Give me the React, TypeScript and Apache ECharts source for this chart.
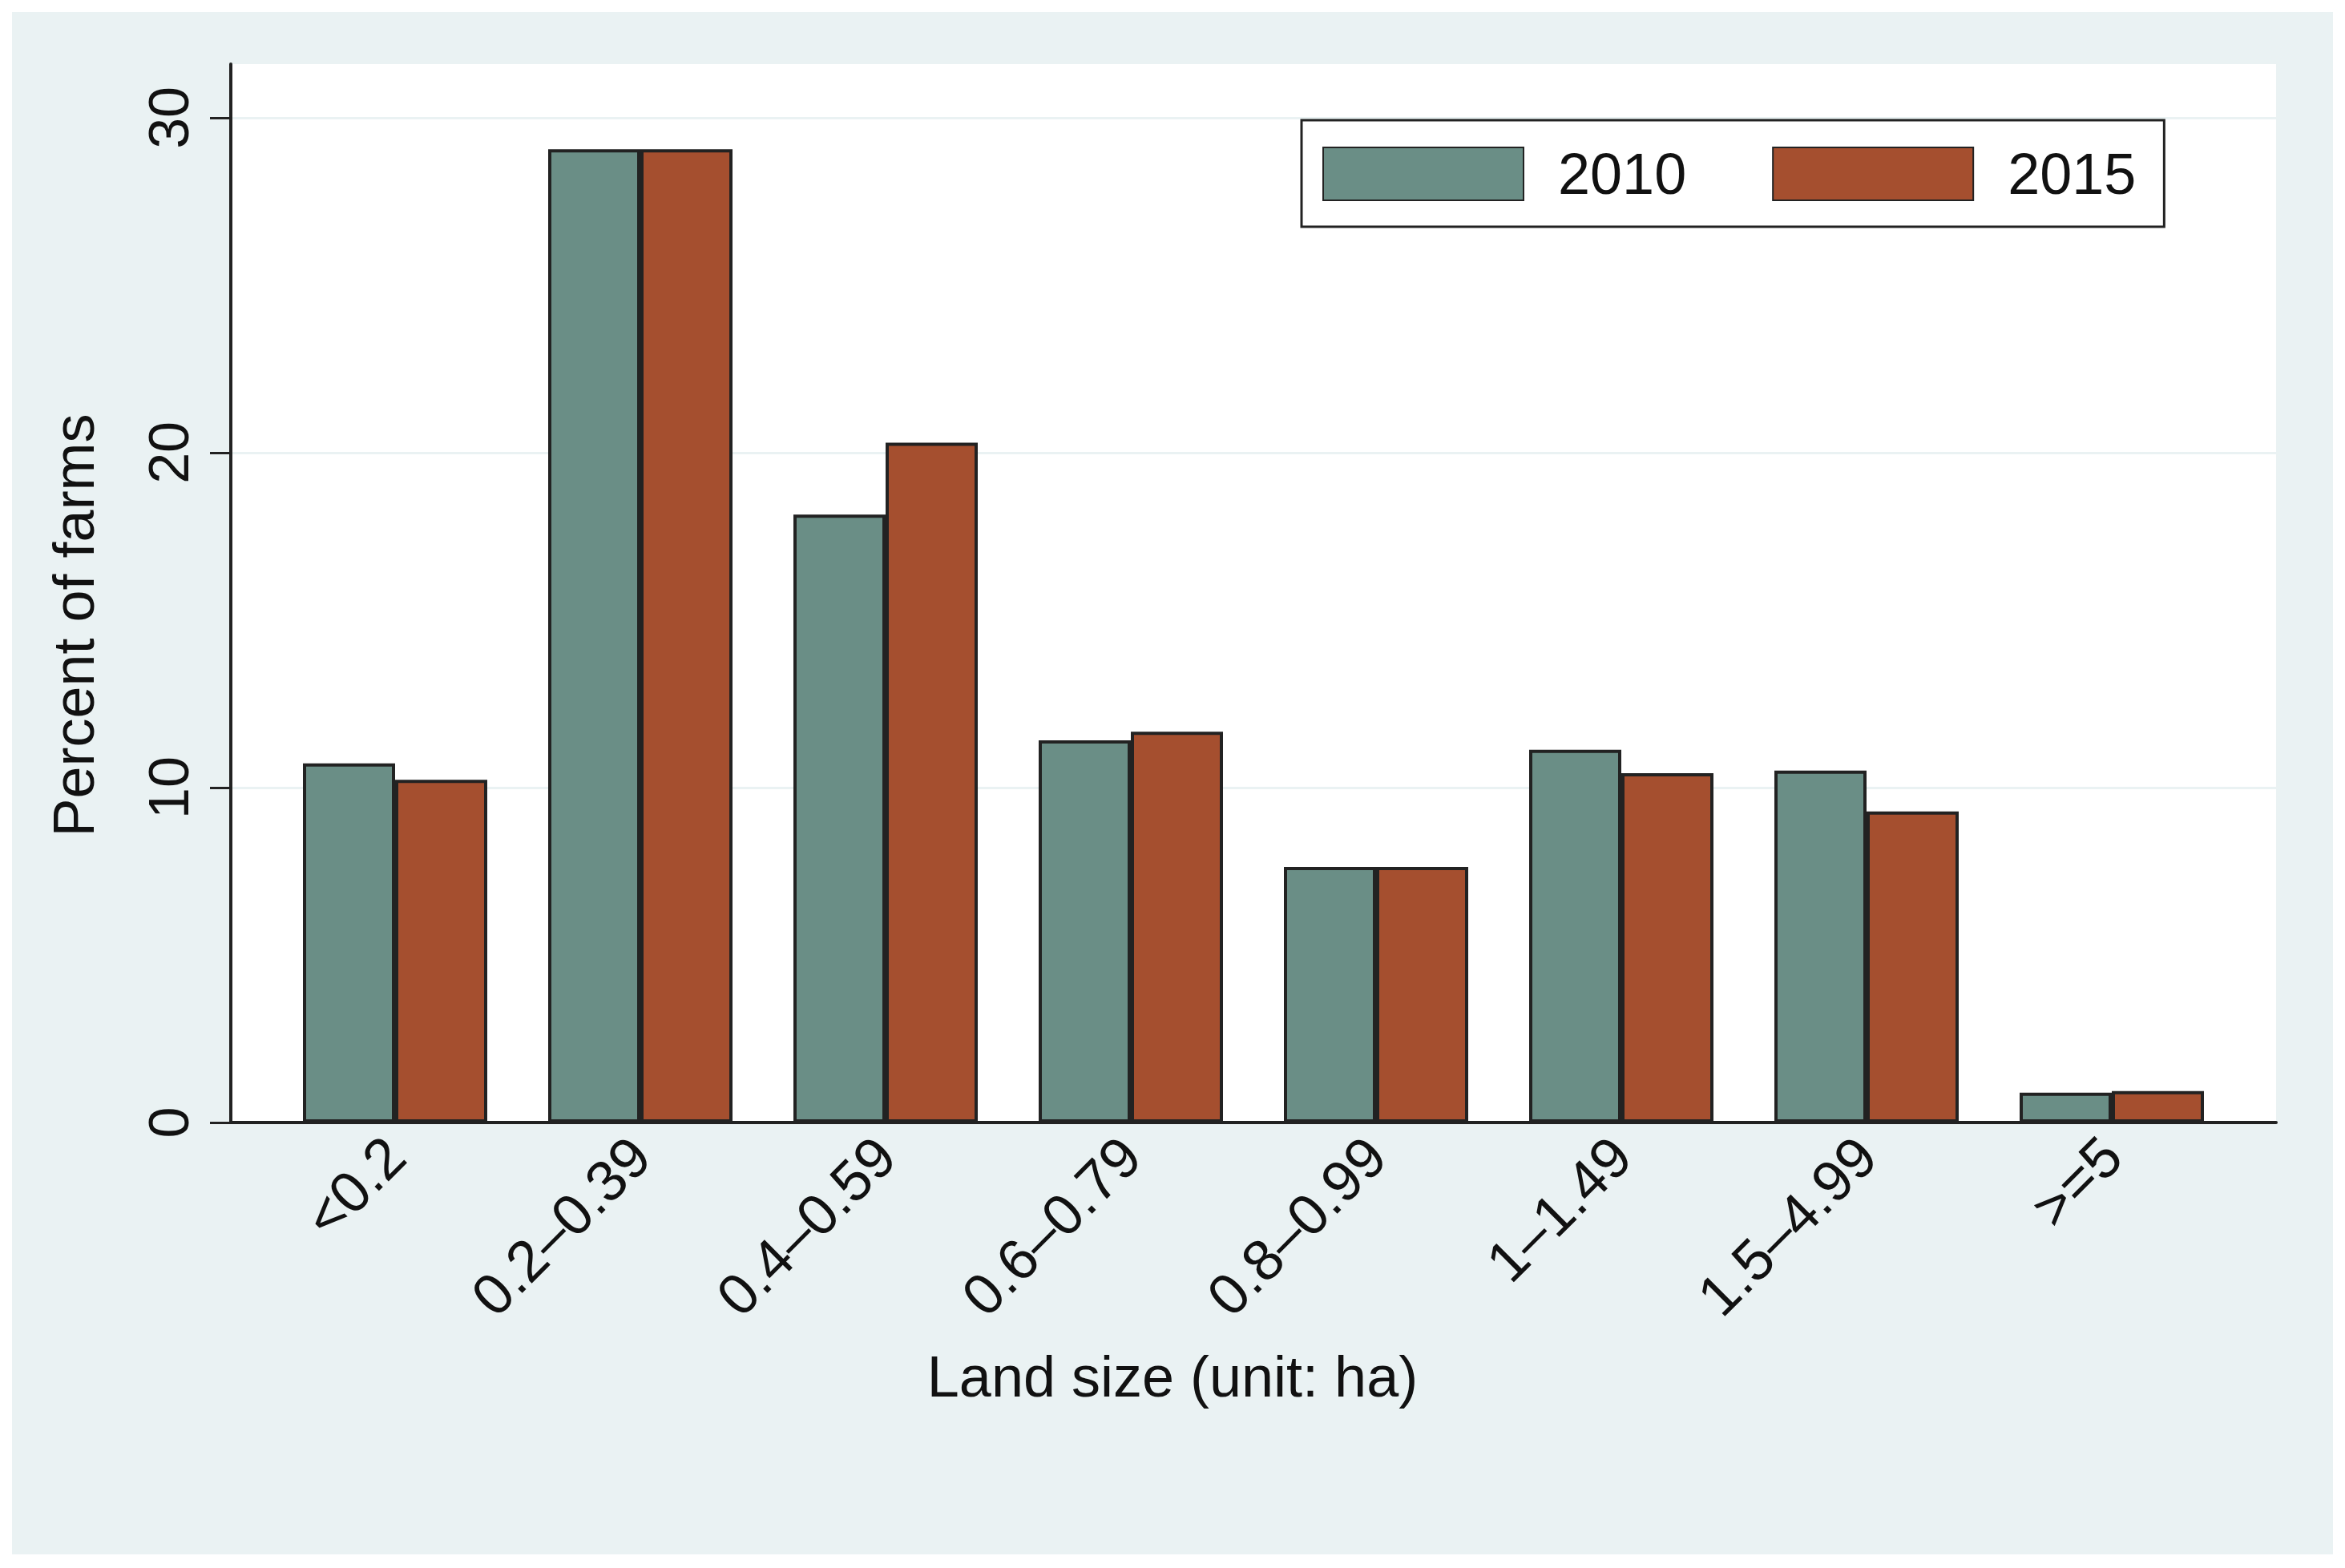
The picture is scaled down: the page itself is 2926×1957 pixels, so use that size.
import React, { useEffect, useRef } from "react";
import * as echarts from "echarts";

const categories = ["<0.2", "0.2–0.39", "0.4–0.59", "0.6–0.79", "0.8–0.99", "1–1.49", "1.5–4.99", ">=5"];
const values2010 = [10.72, 29.06, 18.15, 11.41, 7.63, 11.13, 10.51, 0.89];
const values2015 = [10.23, 29.06, 20.3, 11.67, 7.63, 10.43, 9.29, 0.94];
const yTicks = [0, 10, 20, 30];
const seriesNames = ["2010", "2015"];

const W = 2926;
const H = 1957;
const FONT = "'Liberation Sans', Arial, Helvetica, sans-serif";

export default function App() {
  const ref = useRef<HTMLDivElement>(null);
  useEffect(() => {
    if (!ref.current) return;
    const chart = echarts.init(ref.current, null, { renderer: "svg" });
    const yMax = 31.6;
    chart.setOption({
      animation: false,
      backgroundColor: "#ffffff",
      textStyle: { fontFamily: FONT, color: "#111" },
      graphic: [
        {
          type: "rect",
          silent: true,
          z: -100,
          shape: { x: 15, y: 15, width: W - 30, height: H - 32 },
          style: { fill: "#EAF2F3" },
        },
      ],
      title: {
        text: "Land size (unit: ha)",
        left: "center",
        top: 1677,
        textStyle: { fontSize: 72, fontWeight: "normal", color: "#111", fontFamily: FONT },
      },
      legend: {
        data: seriesNames,
        left: 1624,
        top: 150,
        orient: "horizontal",
        padding: [31, 35, 30, 26],
        itemWidth: 250,
        itemHeight: 66,
        itemGap: 107,
        backgroundColor: "#ffffff",
        borderColor: "#222",
        borderWidth: 3,
        borderRadius: 0,
        icon: "rect",
        selectedMode: false,
        textStyle: { fontSize: 72, color: "#111", lineHeight: 66, padding: [0, 0, 0, 38], fontFamily: FONT },
      },
      grid: [
        { left: 288, right: W - 2840, top: 80, bottom: H - 1401, show: true, backgroundColor: "#ffffff", borderWidth: 0 },
        { left: 340, right: W - 2788, top: 80, bottom: H - 1401 },
      ],
      xAxis: [
        {
          gridIndex: 0,
          type: "value",
          min: 0,
          max: 1,
          axisLine: { show: true, lineStyle: { color: "#222", width: 4 } },
          axisTick: { show: false },
          axisLabel: { show: false },
          splitLine: { show: false },
        },
        {
          gridIndex: 1,
          type: "category",
          data: categories,
          axisLine: { show: false },
          axisTick: { show: false },
          axisLabel: { interval: 0, rotate: 45, fontSize: 72, margin: 30, color: "#111", fontFamily: FONT },
          splitLine: { show: false },
        },
      ],
      yAxis: [
        {
          gridIndex: 0,
          type: "value",
          min: 0,
          max: yMax,
          interval: 10,
          name: "Percent of farms",
          nameLocation: "middle",
          nameGap: 160,
          nameRotate: 90,
          nameTextStyle: { fontSize: 72, color: "#111", fontFamily: FONT, padding: [0, 80, 0, 0] },
          axisLine: { show: true, lineStyle: { color: "#222", width: 4 } },
          axisTick: { show: true, length: 26, lineStyle: { color: "#222", width: 3 }, customValues: yTicks },
          axisLabel: {
            rotate: 90,
            fontSize: 70,
            margin: 42,
            color: "#111",
            fontFamily: FONT,
            customValues: yTicks,
            formatter: (v: number) => (v % 10 === 0 ? String(v) : ""),
          },
          splitLine: { show: true, lineStyle: { color: "#EAF2F3", width: 3 } },
        },
        {
          gridIndex: 1,
          type: "value",
          min: 0,
          max: yMax,
          interval: 10,
          show: false,
          splitLine: { show: false },
        },
      ],
      series: [
        {
          name: seriesNames[0],
          type: "bar",
          xAxisIndex: 1,
          yAxisIndex: 1,
          data: values2010,
          barWidth: 115,
          barGap: "0%",
          itemStyle: { color: "#6A8E86", borderColor: "#222", borderWidth: 4 },
        },
        {
          name: seriesNames[1],
          type: "bar",
          xAxisIndex: 1,
          yAxisIndex: 1,
          data: values2015,
          barWidth: 115,
          barGap: "0%",
          itemStyle: { color: "#A54F2F", borderColor: "#222", borderWidth: 4 },
        },
      ],
    });
    return () => chart.dispose();
  }, []);
  return <div ref={ref} style={{ position: "fixed", left: 0, top: 0, width: W, height: H }} />;
}
